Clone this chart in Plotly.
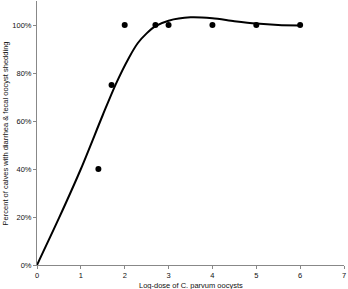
import plotly.graph_objects as go

dose_pts = [1.4, 1.7, 2.0, 2.7, 3.0, 4.0, 5.0, 6.0]
pct_pts = [0.40, 0.75, 1.00, 1.00, 1.00, 1.00, 1.00, 1.00]

curve_x = [0, 0.5, 1.0, 1.5, 1.8, 2.1, 2.3, 2.5, 2.7, 3.0, 3.5, 4.0, 4.5, 5.0, 5.5, 6.0]
curve_y = [0, 0.195, 0.40, 0.625, 0.755, 0.865, 0.925, 0.965, 0.995, 1.018, 1.032, 1.028, 1.016, 1.006, 1.0, 0.998]

x_ticks = [0, 1, 2, 3, 4, 5, 6, 7]
y_ticks = [0, 0.2, 0.4, 0.6, 0.8, 1.0]
y_labels = ["0%", "20%", "40%", "60%", "80%", "100%"]

fig = go.Figure()
fig.add_trace(go.Scatter(x=curve_x, y=curve_y, mode="lines",
                         line=dict(color="black", width=2, shape="spline", smoothing=0.8),
                         showlegend=False, hoverinfo="skip"))
fig.add_trace(go.Scatter(x=dose_pts, y=pct_pts, mode="markers",
                         marker=dict(color="black", size=6),
                         showlegend=False))

axis_font = dict(family="Liberation Sans, Arial", size=7.5, color="#111")
fig.update_layout(
    width=348, height=289,
    margin=dict(l=37, r=4, t=1, b=24),
    paper_bgcolor="white", plot_bgcolor="white",
    font=axis_font,
    xaxis=dict(range=[0, 7], tickvals=x_ticks, showgrid=False, zeroline=False,
               showline=True, linecolor="#888", linewidth=1, ticks="outside",
               ticklen=3, tickcolor="#888", tickfont=axis_font),
    yaxis=dict(range=[0, 1.1], tickvals=y_ticks, ticktext=y_labels, showgrid=False,
               zeroline=False, showline=True, linecolor="#888", linewidth=1,
               ticks="outside", ticklen=3, tickcolor="#888", tickfont=axis_font),
    annotations=[
        dict(text="Log-dose of C. parvum oocysts", xref="paper", yref="paper",
             x=0.5, y=-0.052, xanchor="center", yanchor="top", showarrow=False,
             font=axis_font),
        dict(text="Percent of calves with diarrhea & fecal oocyst shedding",
             xref="paper", yref="paper", x=-0.103, y=0.5, xanchor="center",
             yanchor="middle", textangle=-90, showarrow=False, font=axis_font),
    ],
)
fig.write_html("out.html", post_script="document.body.style.margin='0';",
               config={"displayModeBar": False})
